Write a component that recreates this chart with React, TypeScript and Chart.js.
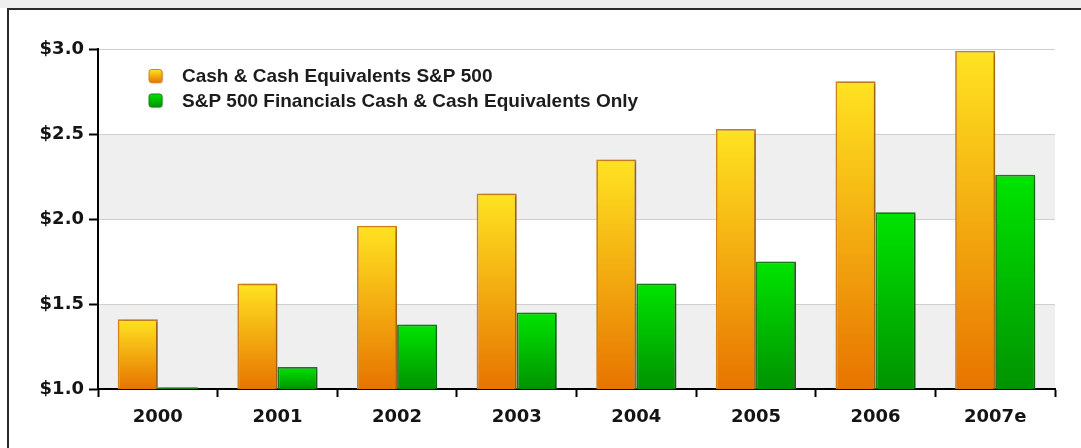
import React, { useEffect, useRef } from "react";
import { Chart, registerables } from "chart.js";

Chart.register(...registerables);

const categories = ["2000", "2001", "2002", "2003", "2004", "2005", "2006", "2007e"];
const cashSP500 = [1.41, 1.62, 1.96, 2.15, 2.35, 2.53, 2.81, 2.99];
const financialsCash = [1.01, 1.13, 1.38, 1.45, 1.62, 1.75, 2.04, 2.26];
const seriesLabels = [
  "Cash & Cash Equivalents S&P 500",
  "S&P 500 Financials Cash & Cash Equivalents Only",
];
const yTickValues = [1.0, 1.5, 2.0, 2.5, 3.0];
const shadedBands = [
  [1.0, 1.5],
  [2.0, 2.5],
];

const ORANGE = { top: "#ffe321", bottom: "#e77400", border: "#d0841c" };
const GREEN = { top: "#00e400", bottom: "#009300", border: "#17801a" };

function barGradient(pal: { top: string; bottom: string; border: string }) {
  return (ctx: any) => {
    const chart = ctx.chart;
    const y = chart.scales && chart.scales.y;
    if (!chart.chartArea || !y || typeof ctx.raw !== "number") return pal.top;
    const top = y.getPixelForValue(ctx.raw);
    const bottom = y.getPixelForValue(y.min);
    if (!isFinite(top) || !isFinite(bottom) || bottom - top < 1) return pal.bottom;
    const g = chart.ctx.createLinearGradient(0, top, 0, bottom);
    g.addColorStop(0, pal.top);
    g.addColorStop(1, pal.bottom);
    return g;
  };
}

const framePlugin = {
  id: "frame",
  beforeDraw(chart: any) {
    const { ctx, width, height } = chart;
    ctx.save();
    ctx.fillStyle = "#eeeeee";
    ctx.fillRect(0, 0, width, 8);
    ctx.fillStyle = "#2a2a2a";
    ctx.fillRect(7, 8, width - 7, 2);
    ctx.fillRect(7, 8, 2, height - 8);
    ctx.restore();
  },
};

const bandPlugin = {
  id: "bands",
  beforeDraw(chart: any) {
    const { ctx, chartArea } = chart;
    const y = chart.scales.y;
    if (!chartArea) return;
    ctx.save();
    ctx.fillStyle = "#efefef";
    for (const [a, b] of shadedBands) {
      const y1 = y.getPixelForValue(b);
      const y2 = y.getPixelForValue(a);
      ctx.fillRect(chartArea.left, y1, chartArea.right - chartArea.left, y2 - y1);
    }
    ctx.restore();
  },
};

const shadowPlugin = {
  id: "barShadow",
  beforeDatasetsDraw(chart: any) {
    const ctx = chart.ctx;
    ctx.save();
    ctx.shadowColor = "rgba(0,0,0,0.28)";
    ctx.shadowBlur = 4;
    ctx.shadowOffsetX = 3;
    ctx.shadowOffsetY = 1;
  },
  afterDatasetsDraw(chart: any) {
    chart.ctx.restore();
  },
};

const legendPlugin = {
  id: "insideLegend",
  afterDraw(chart: any) {
    const ctx = chart.ctx;
    const pals = [ORANGE, GREEN];
    const boxX = 149;
    const textX = 182;
    const rows = [76, 100.5];
    ctx.save();
    chart.data.datasets.forEach((ds: any, i: number) => {
      const cy = rows[i];
      const s = 13;
      const pal = pals[i];
      const g = ctx.createLinearGradient(0, cy - s / 2, 0, cy + s / 2);
      g.addColorStop(0, pal.top);
      g.addColorStop(1, pal.bottom);
      ctx.shadowColor = "rgba(0,0,0,0.25)";
      ctx.shadowBlur = 2;
      ctx.shadowOffsetX = 1;
      ctx.shadowOffsetY = 1;
      ctx.beginPath();
      ctx.roundRect(boxX, cy - s / 2, s, s, 2.5);
      ctx.fillStyle = g;
      ctx.fill();
      ctx.shadowColor = "transparent";
      ctx.lineWidth = 1;
      ctx.strokeStyle = pal.border;
      ctx.stroke();
      ctx.fillStyle = "#1c1c1c";
      ctx.font = "bold 19px 'Liberation Sans', Arial, sans-serif";
      ctx.textBaseline = "middle";
      ctx.textAlign = "left";
      ctx.fillText(ds.label, textX, cy + 1);
    });
    ctx.restore();
  },
};

export default function App() {
  const ref = useRef<HTMLCanvasElement | null>(null);

  useEffect(() => {
    if (!ref.current) return;
    const chart = new Chart(ref.current, {
      type: "bar",
      data: {
        labels: categories,
        datasets: [
          {
            label: seriesLabels[0],
            data: cashSP500,
            backgroundColor: barGradient(ORANGE),
            borderColor: ORANGE.border,
            borderWidth: 1.8,
            borderSkipped: false,
            categoryPercentage: 0.67,
            barPercentage: 1.0,
          },
          {
            label: seriesLabels[1],
            data: financialsCash,
            backgroundColor: barGradient(GREEN),
            borderColor: GREEN.border,
            borderWidth: 1.8,
            borderSkipped: false,
            categoryPercentage: 0.67,
            barPercentage: 1.0,
          },
        ],
      },
      options: {
        animation: false,
        responsive: false,
        layout: { padding: { left: 10, top: 49, right: 26, bottom: 0 } },
        plugins: {
          legend: { display: false },
          tooltip: { enabled: false },
        },
        scales: {
          x: {
            z: 1,
            offset: true,
            border: { display: true, color: "#000", width: 2 },
            grid: {
              offset: true,
              drawOnChartArea: false,
              drawTicks: true,
              tickLength: 8,
              tickColor: "#000",
              tickWidth: 2,
            },
            ticks: {
              color: "#141414",
              padding: 10,
              font: { family: "'DejaVu Sans', Verdana, sans-serif", size: 18, weight: "bold" },
            },
            afterFit(scale: any) {
              scale.height = 59;
            },
          },
          y: {
            min: 1,
            max: 3,
            border: { display: true, color: "#000", width: 2 },
            grid: {
              color: "#cfcfcf",
              lineWidth: 1,
              drawTicks: true,
              tickLength: 9,
              tickColor: "#000",
              tickWidth: 2,
            },
            afterBuildTicks(scale: any) {
              scale.ticks = yTickValues.map((v) => ({ value: v }));
            },
            ticks: {
              color: "#141414",
              padding: 5,
              font: { family: "'DejaVu Sans', Verdana, sans-serif", size: 18, weight: "bold" },
              callback: (v: any) => "$" + Number(v).toFixed(1),
            },
            afterFit(scale: any) {
              scale.width = 88;
            },
          },
        },
      } as any,
      plugins: [framePlugin, bandPlugin, shadowPlugin, legendPlugin],
    });
    return () => chart.destroy();
  }, []);

  return (
    <div
      style={{
        position: "fixed",
        left: 0,
        top: 0,
        width: 1081,
        height: 448,
        background: "#fff",
        overflow: "hidden",
      }}
    >
      <canvas
        ref={ref}
        width={1081}
        height={448}
        style={{ position: "absolute", left: 0, top: 0, width: 1081, height: 448 }}
      />
    </div>
  );
}
